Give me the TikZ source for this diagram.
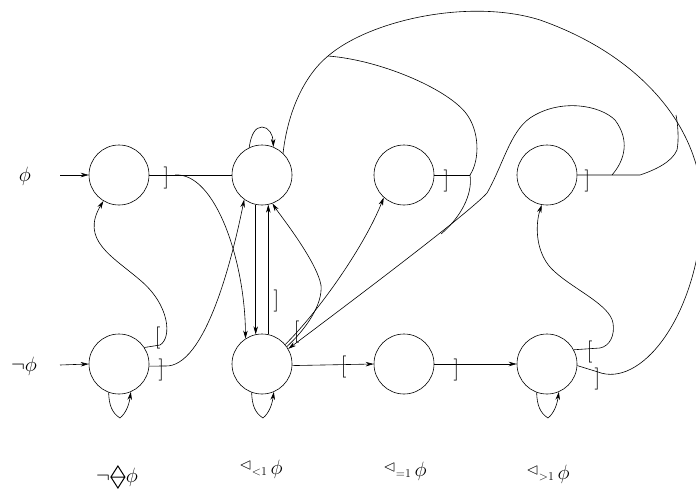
\documentclass[tikz,border=0pt]{standalone}
\usepackage{amssymb}
\usetikzlibrary{arrows.meta}
\newcommand{\tri}[1]{\raisebox{5pt}{\fontsize{16}{17}\selectfont$\lhd$}\raisebox{-1pt}{\fontsize{13}{14}\selectfont$#1$}\,$\phi$}
\begin{document}
\begin{tikzpicture}[x=1pt,y=-1pt,line width=0.6pt,
  st/.style={circle,draw,line width=0.6pt,minimum size=60pt,inner sep=0pt},
  arr/.style={-{Stealth[length=8pt,width=4.5pt,inset=2.5pt]}},
  brR/.style={inner sep=0pt,anchor=east,font=\fontsize{22}{24}\selectfont},
  brL/.style={inner sep=0pt,anchor=west,font=\fontsize{22}{24}\selectfont},
  lab/.style={inner sep=0pt,font=\fontsize{22}{24}\selectfont}]
\useasboundingbox (0,0) rectangle (696,496);
% states
\node[st] (A) at (119,175) {};
\node[st] (B) at (262,175) {};
\node[st] (C) at (404,175) {};
\node[st] (D) at (547,175) {};
\node[st] (E) at (119,364) {};
\node[st] (F) at (262,364) {};
\node[st] (G) at (404,364) {};
\node[st] (H) at (547,364) {};
% labels
\node[lab] (lphi) at (25,176) {$\phi$};
\node[lab] (lnphi) at (24,366) {$\neg\phi$};
\node[lab] (l1) at (117,477) {$\neg$\tikz[baseline=0pt,x=1pt,y=1pt,line width=1pt]{\draw (0.5,5.5)--(7.5,16.5)--(14.5,5.5)--(7.5,-5.5)--cycle (0,5.5)--(15,5.5);}$\phi$};
\node[lab] (l2) at (261,469) {\tri{{<}1}};
\node[lab] (l3) at (405,471) {\tri{{=}1}};
\node[lab] (l4) at (548,474) {\tri{{>}1}};
% brackets
\node[brR] (b1) at (169.5,178) {]};
\node[brL] (b2) at (154.5,338) {[};
\node[brR] (b3) at (164.5,370) {]};
\node[brR] (b4) at (279.5,301) {]};
\node[brL] (b5) at (293.5,332) {[};
\node[brL] (b6) at (340.5,367) {[};
\node[brR] (b7) at (459.5,370) {]};
\node[brR] (b8) at (449.5,181) {]};
\node[brR] (b9) at (590.5,181) {]};
\node[brL] (b10) at (586.5,352) {[};
\node[brR] (b11) at (600.5,379) {]};
% coordinates
\coordinate (s1) at (60,175);
\coordinate (s2) at (60,365);
\coordinate (jA) at (175,175);
\coordinate (jE1) at (165,366);
\coordinate (jE2) at (160,345);
\coordinate (jD) at (612,175);
\coordinate (dEnd) at (676,115);
\coordinate (jC) at (470,175);
\coordinate (mC) at (441,234);
\coordinate (mTop) at (328,56);
\coordinate (jH) at (598,372);
% inputs
\draw[arr] (s1) -- (A.west);
\draw[arr] (s2) -- (E.west);
% A
\draw (A.east) -- (B.west);
\draw[arr] (jA) .. controls (215,172) and (245,260) .. (F.123);
% E
\draw (E.-4) -- (jE1);
\draw[arr] (jE1) .. controls (205,368) and (232,260) .. (B.234);
\draw[arr] (E.33) -- (jE2) .. controls (172,338) and (170,305) .. (140,280) .. controls (112,256) and (80,240) .. (A.239);
% self loops
\draw[arr] (E.250) .. controls (109,405) and (112,413) .. (120,418) .. controls (126,413) and (129,405) .. (E.293);
\draw[arr] (F.250) .. controls (252,405) and (255,413) .. (263,418) .. controls (269,413) and (272,405) .. (F.293);
\draw[arr] (H.250) .. controls (537,405) and (540,413) .. (548,418) .. controls (554,413) and (557,405) .. (H.293);
\draw[arr] (B.115) .. controls (251,135) and (255,127) .. (262,127) .. controls (269,127) and (273,135) .. (B.68);
% B <-> F
\draw[arr] (B.258) -- (F.102);
\draw[arr] (F.78) -- (B.282);
\draw[arr] (F.35) .. controls (305,330) and (323,305) .. (321,285) .. controls (316,260) and (280,215) .. (B.290);
% F -> C
\draw[arr] (F.40) .. controls (320,310) and (365,245) .. (C.228);
% D
\draw (D.east) -- (640,175) .. controls (655,170) and (672,162) .. (677,150) .. controls (679,140) and (678,125) .. (dEnd);
\draw[arr] (jD) .. controls (625,160) and (630,140) .. (615,120) .. controls (600,105) and (560,98) .. (530,118) .. controls (510,132) and (503,165) .. (487,193) .. controls (470,212) and (360,295) .. (F.30);
% C
\draw (C.east) -- (jC);
\draw (jC) .. controls (473,195) and (460,218) .. (mC);
\draw (jC) .. controls (480,160) and (480,130) .. (465,112) .. controls (445,88) and (380,60) .. (mTop);
% big arc
\draw (H.-3) -- (jH) .. controls (640,388) and (695,320) .. (702,220) .. controls (708,130) and (640,55) .. (540,20) .. controls (470,-2) and (370,20) .. (mTop) .. controls (305,75) and (288,110) .. (B.46);
% H -> D
\draw[arr] (H.28) -- (600,348) .. controls (610,346) and (615,335) .. (613,323) .. controls (610,305) and (575,290) .. (555,272) .. controls (535,255) and (535,225) .. (D.260);
% bottom row
\draw[arr] (F.-3) -- (G.west);
\draw[arr] (G.east) -- (H.west);
\end{tikzpicture}
\end{document}
